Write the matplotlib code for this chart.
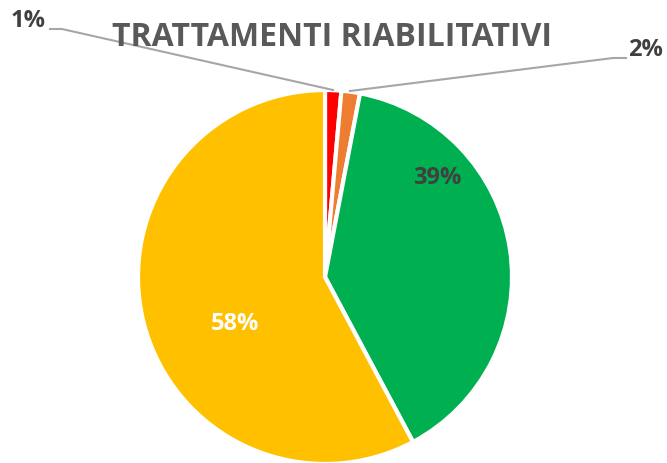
import matplotlib
matplotlib.use("Agg")
import matplotlib.pyplot as plt

labels = ["1%", "2%", "39%", "58%"]
values = [1.4, 1.6, 39.2, 57.8]
colors = ["#FF0000", "#ED7D31", "#00B050", "#FFC000"]
title = "TRATTAMENTI RIABILITATIVI"

W, H = 667, 463
fig = plt.figure(figsize=(W / 100, H / 100), dpi=100)
ax = fig.add_axes([0, 0, 1, 1])

cx, cy, r = 325, H - 277, 187
wedges, _ = ax.pie(values, colors=colors, startangle=90, counterclock=False,
                   center=(cx, cy), radius=r, frame=True,
                   wedgeprops=dict(edgecolor="white", linewidth=3))
ax.set_xlim(0, W)
ax.set_ylim(0, H)
ax.set_aspect("equal")
ax.axis("off")

font = "Open Sans"
lab_col = "#404040"
fs = 17
ax.text(332, H - 37, title, ha="center", va="center", fontsize=23,
        fontweight="bold", color="#595959", family=font)

ax.text(437, H - 178, labels[2], ha="center", va="center", fontsize=fs,
        fontweight="bold", color=lab_col, family=font)
ax.text(235, H - 324, labels[3], ha="center", va="center", fontsize=fs,
        fontweight="bold", color="white", family=font)
ax.text(28, H - 21, labels[0], ha="center", va="center", fontsize=fs,
        fontweight="bold", color=lab_col, family=font)
ax.text(645, H - 50, labels[1], ha="center", va="center", fontsize=fs,
        fontweight="bold", color=lab_col, family=font)

lc = "#A6A6A6"
ax.plot([50, 62, 333], [H - 29, H - 29, H - 90], color=lc, lw=1.5)
ax.plot([350, 613, 626], [H - 91, H - 58, H - 58], color=lc, lw=1.5)

fig.savefig("out.png", dpi=100)
